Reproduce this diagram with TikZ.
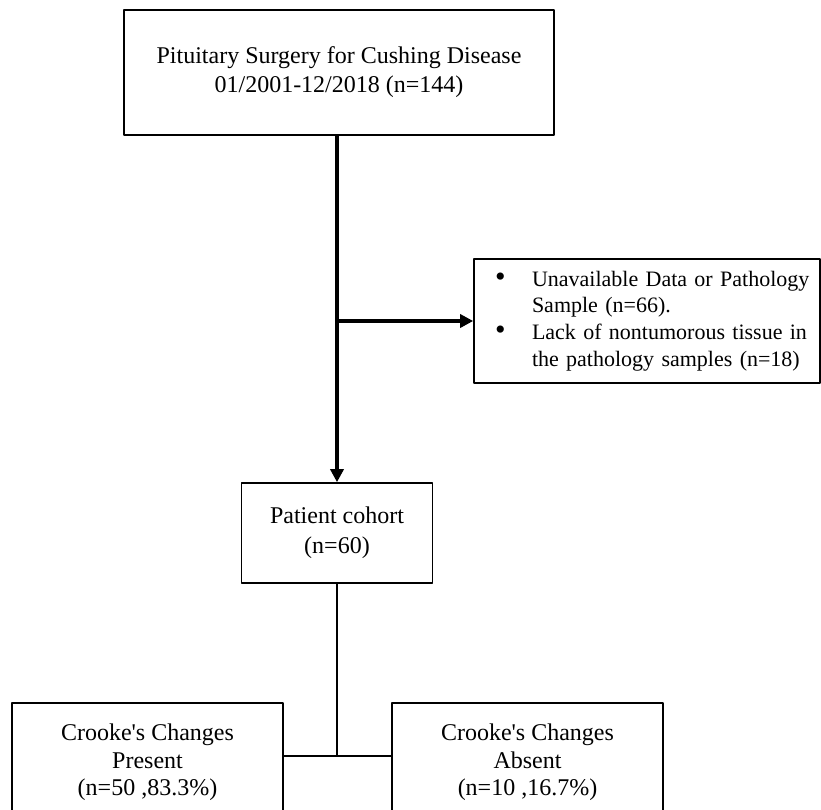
\documentclass[tikz,border=0pt]{standalone}
\usepackage{fontspec}
\setmainfont{Liberation Serif}
\usetikzlibrary{arrows.meta}
\newcommand{\exclline}[2]{\mbox{\hspace*{21pt}\makebox[37pt][l]{#1}#2}}
\newcommand{\exclbullet}{{\fontsize{30}{0}\selectfont\textbullet}}
\begin{document}
\begin{tikzpicture}[x=1pt,y=-1pt,line join=round,
  box/.style={draw,line width=1.6pt,align=center,inner sep=0pt},
  thick link/.style={line width=3.5pt,-{Triangle[length=13pt,width=13pt]}},
  thin link/.style={line width=1.6pt}]
\useasboundingbox (0,0) rectangle (821,810);
\clip (0,0) rectangle (821,810);
\path
(339,72.5) node[box,minimum width=430pt,minimum height=125pt,font=\fontsize{24}{29}\selectfont] (surg)
  {Pituitary Surgery for Cushing Disease\\01/2001-12/2018 (n=144)}
(647,321) node[box,text width=346pt,align=left,inner xsep=0pt,minimum height=124pt,font=\fontsize{22}{26.7}\selectfont] (excl)
  {\exclline{\exclbullet}{Unavailable Data or Pathology}\\
   \exclline{}{Sample (n=66).}\\
   \exclline{\exclbullet}{Lack of nontumorous tissue in}\\
   \exclline{}{the pathology samples (n=18)}}
(337,533) node[box,minimum width=191pt,minimum height=100pt,font=\fontsize{24}{30}\selectfont] (pat)
  {Patient cohort\\(n=60)}
(147.5,762.5) node[box,minimum width=271pt,minimum height=119pt,font=\fontsize{24}{27.5}\selectfont] (cpres)
  {Crooke\textquotesingle s Changes\\Present\\(n=50 ,83.3\%)}
(527.5,762.5) node[box,minimum width=271pt,minimum height=119pt,font=\fontsize{24}{27.5}\selectfont] (cabs)
  {Crooke\textquotesingle s Changes\\Absent\\(n=10 ,16.7\%)}
(337,756) coordinate (jn)
;
\draw[thick link] (surg.south -| pat.north) -- (pat.north);
\draw[thick link] (pat.north |- excl.west) -- (excl.west);
\draw[thin link] (pat.south) -- (jn);
\draw[thin link] (cpres.east |- jn) -- (cabs.west |- jn);
\end{tikzpicture}
\end{document}
